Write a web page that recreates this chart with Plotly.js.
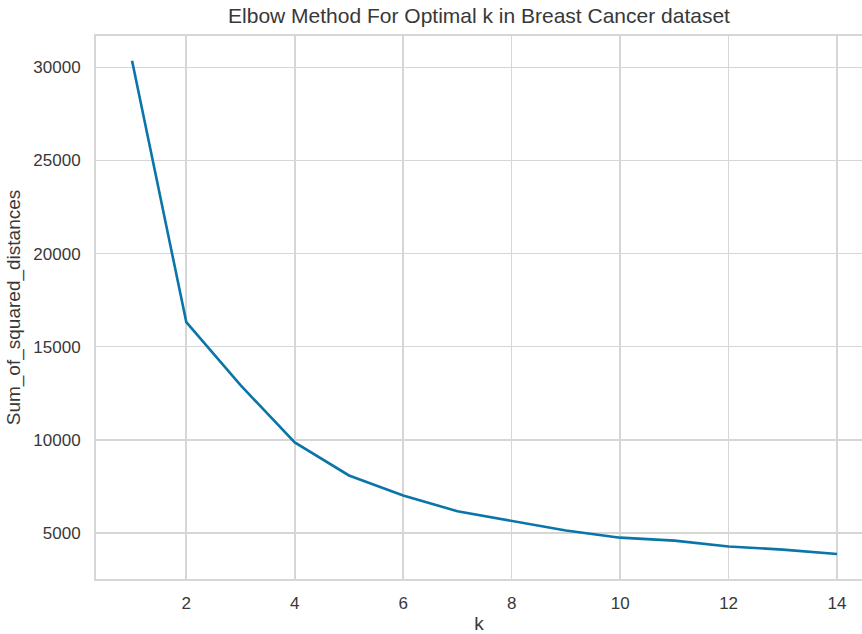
<!DOCTYPE html>
<html>
<head>
<meta charset="utf-8">
<script src="https://cdn.plot.ly/plotly-3.0.1.min.js"></script>
<style>
  html, body { margin: 0; padding: 0; background: #fff; }
  #chart { width: 862px; height: 634px; }
</style>
</head>
<body>
<div id="chart"></div>
<script>
// Number of clusters tried and the resulting inertia (sum of squared distances)
const kValues = [1, 2, 3, 4, 5, 6, 7, 8, 9, 10, 11, 12, 13, 14];
const sumSquaredDistances = [30355, 16323, 12930, 9860, 8081, 7005, 6160, 5624, 5124, 4740, 4580, 4269, 4100, 3860];
const xTicks = [2, 4, 6, 8, 10, 12, 14];
const yTicks = [5000, 10000, 15000, 20000, 25000, 30000];

const gridColor = '#d6d6d6';
const textColor = '#383838';
const fontFamily = '"Liberation Sans", Arial, sans-serif';

const trace = {
  x: kValues,
  y: sumSquaredDistances,
  type: 'scatter',
  mode: 'lines',
  line: { color: '#0a75a8', width: 2.6 },
  hoverinfo: 'x+y'
};

const layout = {
  width: 862,
  height: 634,
  paper_bgcolor: '#ffffff',
  plot_bgcolor: '#ffffff',
  margin: { l: 96, r: 0, t: 36, b: 55, pad: 0 },
  font: { family: fontFamily, color: textColor, size: 17 },
  showlegend: false,
  title: {
    text: 'Elbow Method For Optimal k in Breast Cancer dataset',
    font: { family: fontFamily, size: 21, color: textColor },
    x: 0.5,
    xref: 'paper',
    xanchor: 'center',
    y: 1,
    yref: 'container',
    yanchor: 'top',
    pad: { t: 8 }
  },
  xaxis: {
    range: [0.335, 14.46],
    tickvals: xTicks,
    ticktext: xTicks.map(String),
    ticks: '',
    ticklabelstandoff: 8,
    tickfont: { family: fontFamily, size: 17, color: textColor },
    showgrid: true,
    gridcolor: gridColor,
    gridwidth: 1.6,
    zeroline: false,
    showline: true,
    linecolor: gridColor,
    linewidth: 2,
    mirror: true,
    title: {
      text: 'k',
      font: { family: fontFamily, size: 19, color: textColor },
      standoff: 4
    }
  },
  yaxis: {
    range: [2520, 31690],
    tickvals: yTicks,
    ticktext: yTicks.map(String),
    ticks: '',
    ticklabelstandoff: 10,
    tickfont: { family: fontFamily, size: 17, color: textColor },
    showgrid: true,
    gridcolor: gridColor,
    gridwidth: 1.6,
    zeroline: false,
    showline: true,
    linecolor: gridColor,
    linewidth: 2,
    mirror: false,
    title: {
      text: 'Sum_of_squared_distances',
      font: { family: fontFamily, size: 19, color: textColor },
      standoff: 8
    }
  }
};

Plotly.newPlot('chart', [trace], layout, { displayModeBar: false, staticPlot: true });
</script>
</body>
</html>
